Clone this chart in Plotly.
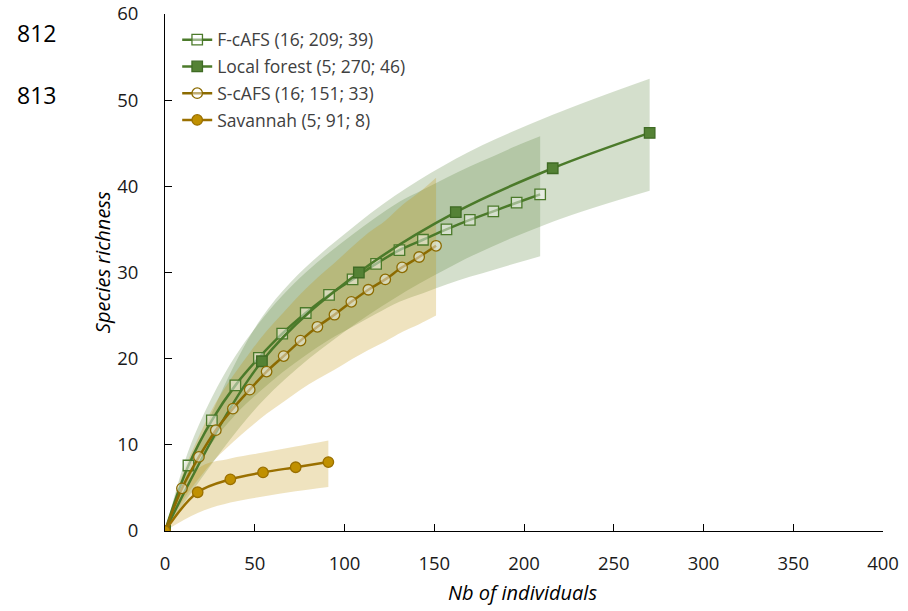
import plotly.graph_objects as go

# ---------------- data ----------------
lf_x = [0, 54, 108, 162, 216, 270]
lf_y = [0, 19.7, 30.0, 37.0, 42.1, 46.2]
lf_up = [0, 24.8, 35.8, 43.2, 48.3, 52.5]
lf_lo = [0, 15.0, 24.3, 31.0, 35.9, 39.5]

fc_x = [0, 13.06, 26.1, 39.2, 52.3, 65.3, 78.4, 91.4, 104.5, 117.6, 130.6,
        143.7, 156.8, 169.8, 182.9, 195.9, 209]
fc_y = [0, 7.6, 12.85, 16.9, 20.1, 22.9, 25.3, 27.4, 29.2, 31.0, 32.6,
        33.8, 35.0, 36.1, 37.1, 38.1, 39.07]
fc_up = [0, 9.3, 15.5, 20.3, 24.1, 27.3, 30.0, 32.3, 34.4, 36.4, 38.2,
         39.6, 41.0, 42.3, 43.5, 44.7, 45.8]
fc_lo = [0, 6.0, 10.2, 13.5, 16.1, 18.4, 20.4, 22.2, 23.7, 25.2, 26.6,
         27.6, 28.6, 29.5, 30.3, 31.1, 31.9]

sc_x = [0, 9.44, 18.9, 28.3, 37.8, 47.2, 56.6, 66.1, 75.5, 84.9, 94.4,
        103.8, 113.3, 122.7, 132.1, 141.6, 151]
sc_y = [0, 4.95, 8.6, 11.7, 14.2, 16.4, 18.5, 20.3, 22.1, 23.7, 25.1,
        26.6, 28.0, 29.2, 30.6, 31.8, 33.1]
sc_up = [0, 6.4, 11.0, 14.9, 18.0, 20.7, 23.2, 25.4, 27.5, 29.4, 31.1,
         32.9, 34.6, 36.0, 37.8, 39.3, 41.0]
sc_lo = [0, 3.4, 6.1, 8.4, 10.3, 12.0, 13.6, 15.0, 16.4, 17.6, 18.7,
         19.9, 21.0, 22.0, 23.1, 24.0, 25.0]

sv_x = [0, 18.2, 36.4, 54.6, 72.8, 91]
sv_y = [0, 4.5, 6.0, 6.8, 7.4, 8.0]
sv_up = [0, 7.2, 8.4, 9.1, 9.8, 10.5]
sv_lo = [0, 2.1, 3.3, 4.0, 4.6, 5.1]

names = ["F-cAFS (16; 209; 39)", "Local forest (5; 270; 46)",
         "S-cAFS (16; 151; 33)", "Savannah (5; 91; 8)"]

x_ticks = [0, 50, 100, 150, 200, 250, 300, 350, 400]
y_ticks = [0, 10, 20, 30, 40, 50, 60]
x_title = "Nb of individuals"
y_title = "Species richness"
line_numbers = ["812", "813"]

# ---------------- styles ----------------
GREEN_BAND = "rgba(83,129,53,0.25)"
GOLD_BAND = "rgba(191,144,0,0.25)"
GREEN_LINE = "#4b7a2a"
GOLD_LINE = "#8c6b00"

fig = go.Figure()

def band(x, lo, up, color):
    fig.add_trace(go.Scatter(x=x, y=lo, mode="lines", line=dict(width=0, shape="spline"),
                             showlegend=False, hoverinfo="skip"))
    fig.add_trace(go.Scatter(x=x, y=up, mode="lines", line=dict(width=0, shape="spline"),
                             fill="tonexty", fillcolor=color, showlegend=False, hoverinfo="skip"))

band(lf_x, lf_lo, lf_up, GREEN_BAND)
band(fc_x, fc_lo, fc_up, GREEN_BAND)
band(sc_x, sc_lo, sc_up, GOLD_BAND)
band(sv_x, sv_lo, sv_up, GOLD_BAND)

series = [
    (fc_x, fc_y, names[0], GREEN_LINE, "square", "rgba(255,255,255,0.45)", "#4b7a2a", "g1"),
    (lf_x, lf_y, names[1], GREEN_LINE, "square", "#548235", "#3f6b24", "g2"),
    (sc_x, sc_y, names[2], GOLD_LINE, "circle", "rgba(255,255,255,0.45)", "#8c6b00", "g3"),
    (sv_x, sv_y, names[3], "#9a7000", "circle", "#c09000", "#9a7000", "g4"),
]
for x, y, nm, lc, sym, fc, ec, grp in series:
    fig.add_trace(go.Scatter(
        x=x, y=y, name=nm, mode="lines+markers", legendgroup=grp,
        line=dict(color=lc, width=2.5, shape="spline"),
        marker=dict(symbol=sym, size=10.5, color=fc, line=dict(color=ec, width=1.3)),
    ))

font_family = "Open Sans, Noto Sans, DejaVu Sans, sans-serif"

fig.update_layout(
    width=908, height=611,
    margin=dict(l=165, r=25, t=14, b=80, autoexpand=False),
    paper_bgcolor="white", plot_bgcolor="white",
    font=dict(family=font_family, color="#1a1a1a", size=18),
    legend=dict(x=0.017, y=0.985, xanchor="left", yanchor="top",
                bgcolor="rgba(0,0,0,0)", font=dict(size=17.5, color="#404040"),
                tracegroupgap=1, itemwidth=30),
    showlegend=True,
)
fig.update_xaxes(
    range=[0, 400], tickvals=x_ticks, ticks="inside", ticklen=7, tickwidth=1,
    tickcolor="#000", showline=True, linecolor="#000", linewidth=1,
    showgrid=False, zeroline=False, ticklabelstandoff=16, automargin=False,
    ticklabeloverflow="allow", tickfont=dict(size=18.5),
)
fig.update_yaxes(
    range=[0, 60], tickvals=y_ticks, ticks="inside", ticklen=7, tickwidth=1,
    tickcolor="#000", showline=True, linecolor="#000", linewidth=1,
    showgrid=False, zeroline=False, ticklabelstandoff=22, automargin=False,
    ticklabeloverflow="allow", tickfont=dict(size=18.5),
)

# axis titles
fig.add_annotation(text="<i>" + x_title + "</i>", xref="paper", yref="paper",
                   x=0.498, y=0, yshift=-61, xanchor="center", yanchor="middle",
                   showarrow=False, font=dict(size=20, color="#000"))
fig.add_annotation(text="<i>" + y_title + "</i>", xref="paper", yref="paper",
                   x=0, xshift=-63, y=0.52, xanchor="center", yanchor="middle",
                   textangle=-90, showarrow=False, font=dict(size=20, color="#000"))

# line numbers
fig.add_annotation(text=line_numbers[0], xref="paper", yref="paper", x=0, xshift=-150,
                   y=1, yshift=-19, xanchor="left", yanchor="middle", showarrow=False,
                   font=dict(size=23, color="#000"))
fig.add_annotation(text=line_numbers[1], xref="paper", yref="paper", x=0, xshift=-150,
                   y=1, yshift=-81, xanchor="left", yanchor="middle", showarrow=False,
                   font=dict(size=23, color="#000"))

# remove the default 8px page margin so the figure fills the window exactly
fig.write_html("out.html",
               config={"displayModeBar": False},
               post_script="document.body.style.margin='0';document.body.style.overflow='hidden';")
